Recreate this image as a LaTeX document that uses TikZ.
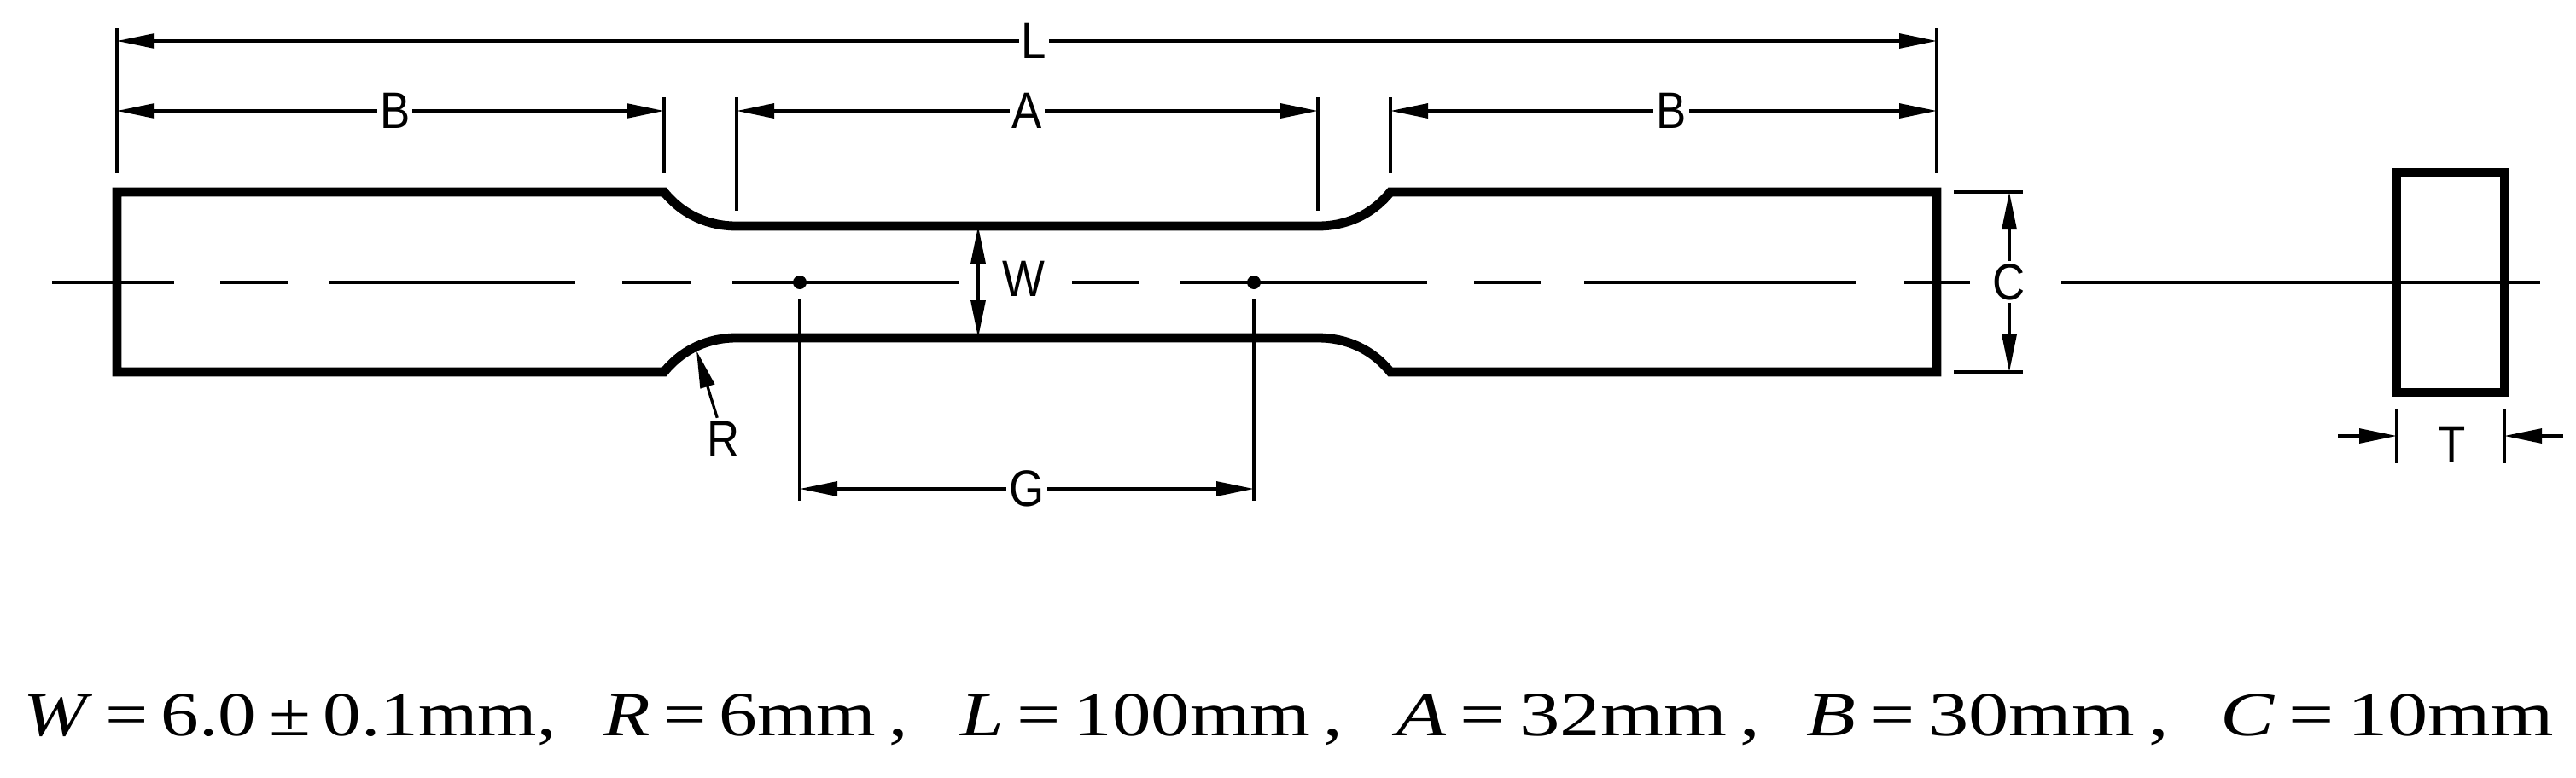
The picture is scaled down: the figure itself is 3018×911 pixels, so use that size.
\documentclass[tikz,border=0pt]{standalone}
\usepackage{fontspec}
\usepackage{graphicx}
\setmainfont{Liberation Sans}
\newfontfamily\eqfont{Liberation Serif}
\usetikzlibrary{arrows.meta}
\tikzset{>/.tip={Triangle[length=22pt,width=8.5pt]}}
\tikzset{thinline/.style={line width=1.6pt}}
\tikzset{outline/.style={line width=5.4pt,miter limit=10}}
\tikzset{dimlabel/.style={font=\fontsize{30}{30}\selectfont,fill=white,inner sep=1.5pt}}
\tikzset{gaugedot/.style={circle,fill,inner sep=0pt,minimum size=8pt}}
\tikzset{eqtext/.style={anchor=base west,inner sep=0pt}}
\def\lab#1{\scalebox{.88}[1]{#1}}
\def\eqbox#1#2{\resizebox{#1pt}{24.5pt}{\eqfont #2}}
\begin{document}
\begin{tikzpicture}[x=.5pt,y=-.5pt,thinline]
        \useasboundingbox (0,0) rectangle (3018,911);
        % specimen and cross section
        \draw[outline] (137,225) -- (778,225) .. controls (800,252) and (830,265) .. (863,265)
        -- (1544,265) .. controls (1577,265) and (1607,252) .. (1629,225) -- (2269,225)
        -- (2269,436) -- (1629,436) .. controls (1607,409) and (1577,396) .. (1544,396)
        -- (863,396) .. controls (830,396) and (800,409) .. (778,436) -- (137,436) -- cycle;
        \draw[outline] (2808,202) rectangle (2934,460);
        % centre line
        \foreach \a/\b in {61/204,258/337,385/674,729/810,858/1123,1256/1334,1383/1672,1727/1805,1856/2175,2231/2308,2415/2976}
        \draw (\a,331) -- (\b,331);
        % extension lines
        \coordinate(Ltop) at (137,33);
        \coordinate(Lbot) at (137,203);
        \coordinate(Rtop) at (2269,33);
        \coordinate(Rbot) at (2269,203);
        \coordinate(Ba) at (778,114);
        \coordinate(Bb) at (778,203);
        \coordinate(Aa) at (863,114);
        \coordinate(Ab) at (863,247);
        \coordinate(Ac) at (1544,114);
        \coordinate(Ad) at (1544,247);
        \coordinate(Bc) at (1629,114);
        \coordinate(Bd) at (1629,203);
        \node(gaugeL)[gaugedot] at (937,331){};
        \node(gaugeR)[gaugedot] at (1469,331){};
        \coordinate(Ga) at (937,350);
        \coordinate(Gb) at (937,587);
        \coordinate(Gc) at (1469,350);
        \coordinate(Gd) at (1469,587);
        \coordinate(Ca) at (2289,225);
        \coordinate(Cb) at (2370,225);
        \coordinate(Cc) at (2289,436);
        \coordinate(Cd) at (2370,436);
        \coordinate(Ta) at (2808,479);
        \coordinate(Tb) at (2808,543);
        \coordinate(Tc) at (2934,479);
        \coordinate(Td) at (2934,543);
        \draw (Ltop) -- (Lbot) (Rtop) -- (Rbot) (Ba) -- (Bb) (Aa) -- (Ab) (Ac) -- (Ad) (Bc) -- (Bd)
        (Ga) -- (Gb) (Gc) -- (Gd) (Ca) -- (Cb) (Cc) -- (Cd) (Ta) -- (Tb) (Tc) -- (Td);
        % dimensions
        \coordinate(La) at (137,48);
        \coordinate(Lb) at (2269,48);
        \coordinate(B1) at (137,130);
        \coordinate(B2) at (778,130);
        \coordinate(A1) at (863,130);
        \coordinate(A2) at (1544,130);
        \coordinate(B3) at (1629,130);
        \coordinate(B4) at (2269,130);
        \coordinate(G1) at (937,573);
        \coordinate(G2) at (1469,573);
        \coordinate(C1) at (2354,225);
        \coordinate(C2) at (2354,436);
        \coordinate(W1) at (1146,265);
        \coordinate(W2) at (1146,396);
        \coordinate(T1) at (2739,511);
        \coordinate(T2) at (2808,511);
        \coordinate(T3) at (3003,511);
        \coordinate(T4) at (2934,511);
        \coordinate(Rtip) at (816,411);
        \draw[<->] (La) -- node[dimlabel,pos=.504]{\lab{L}} (Lb);
        \draw[<->] (B1) -- node[dimlabel,pos=.508]{\lab{B}} (B2);
        \draw[<->] (A1) -- node[dimlabel]{\lab{A}} (A2);
        \draw[<->] (B3) -- node[dimlabel,pos=.514]{\lab{B}} (B4);
        \draw[<->] (G1) -- node[dimlabel]{\lab{G}} (G2);
        \draw[<->] (C1) -- node[dimlabel]{\lab{C}} (C2);
        \draw[<->] (W1) -- (W2);
        \draw[->] (T1) -- (T2);
        \draw[->] (T3) -- (T4);
        \node(labelW)[dimlabel,fill=none] at (1199,327){\lab{W}};
        \node(labelT)[dimlabel,fill=none] at (2873,521){\lab{T}};
        \node(labelR)[dimlabel,fill=none] at (848,515){\lab{R}};
        \draw[->] (labelR) -- (Rtip);
        % values
        \node(eqW)[eqtext] at (26,862){\eqbox{312}{\textit{W}\,=\,6.0\,±\,0.1mm,}};
        \node(eqR)[eqtext] at (706,862){\eqbox{178}{\textit{R}\,=\,6mm\,,}};
        \node(eqL)[eqtext] at (1124,862){\eqbox{224}{\textit{L}\,=\,100mm\,,}};
        \node(eqA)[eqtext] at (1635,862){\eqbox{213}{\textit{A}\,=\,32mm\,,}};
        \node(eqB)[eqtext] at (2115,862){\eqbox{212}{\textit{B}\,=\,30mm\,,}};
        \node(eqC)[eqtext] at (2600,862){\eqbox{195}{\textit{C}\,=\,10mm}};
      \end{tikzpicture}
\end{document}
